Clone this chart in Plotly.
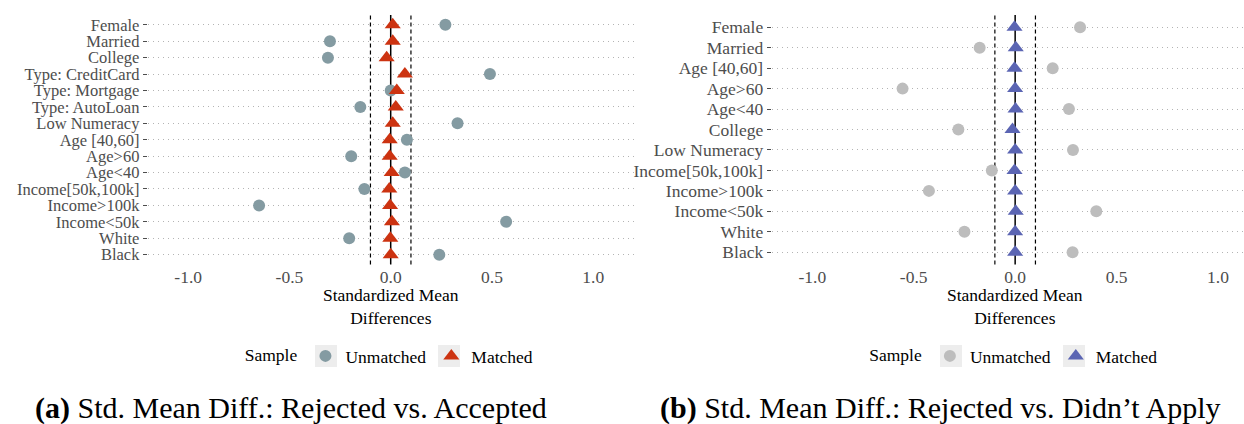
import plotly.graph_objects as go

# Covariate balance: rejected vs. accepted
left_labels = ["Female", "Married", "College", "Type: CreditCard", "Type: Mortgage",
               "Type: AutoLoan", "Low Numeracy", "Age [40,60]", "Age>60", "Age<40",
               "Income[50k,100k]", "Income>100k", "Income<50k", "White", "Black"]
left_unmatched = [0.27, -0.30, -0.31, 0.49, 0.00, -0.15, 0.33, 0.08, -0.195, 0.07,
                  -0.13, -0.65, 0.57, -0.205, 0.24]
left_matched = [0.01, 0.01, -0.02, 0.07, 0.03, 0.025, 0.01, -0.005, -0.005, 0.005,
                -0.007, -0.003, 0.006, -0.002, 0.0]

# Covariate balance: rejected vs. didn't apply
right_labels = ["Female", "Married", "Age [40,60]", "Age>60", "Age<40", "College",
                "Low Numeracy", "Income[50k,100k]", "Income>100k", "Income<50k",
                "White", "Black"]
right_unmatched = [0.32, -0.175, 0.185, -0.555, 0.265, -0.28, 0.285, -0.115, -0.425,
                   0.40, -0.25, 0.283]
right_matched = [-0.003, 0.003, -0.003, 0.0, 0.002, -0.013, 0.0, -0.003, 0.0, 0.003,
                 0.0, 0.0]

x_ticks = [-1.0, -0.5, 0.0, 0.5, 1.0]
x_ticktext = ["-1.0", "-0.5", "0.0", "0.5", "1.0"]
thresholds = [-0.1, 0.1]

W, H = 1244, 424
FONT = "Liberation Serif, Times New Roman, serif"
TICK_GRAY = "#4d4d4d"
FS = 17.5

panels = [
    dict(labels=left_labels, unm=left_unmatched, mat=left_matched,
         c_unm="#849ba2", c_mat="#cc3311", xref="x", yref="y", legend="legend",
         x0=147.7, x1=633.7, xrange=[-1.2, 1.2], yfs=16.5, key_x=[326, 449],
         caption="<b>(a)</b> Std. Mean Diff.: Rejected vs. Accepted", cap_x=291),
    dict(labels=right_labels, unm=right_unmatched, mat=right_matched,
         c_unm="#bdbdbd", c_mat="#5b65b3", xref="x2", yref="y2", legend="legend2",
         x0=771.7, x1=1244, xrange=[-1.2, 1.128], yfs=FS, key_x=[951, 1074],
         caption="<b>(b)</b> Std. Mean Diff.: Rejected vs. Didn\u2019t Apply", cap_x=940),
]

plot_top, plot_bot = 15.0, 264.5
y_dom = [1 - plot_bot / H, 1 - plot_top / H]
legend_y = 356
key_half = 11

fig = go.Figure()
layout = dict(width=W, height=H, margin=dict(l=0, r=0, t=0, b=0),
              paper_bgcolor="white", plot_bgcolor="white",
              font=dict(family=FONT, size=FS, color="black"),
              shapes=[], annotations=[])

for i, p in enumerate(panels):
    n = len(p["labels"])
    order = list(reversed(p["labels"]))
    fig.add_trace(go.Scatter(
        x=p["unm"], y=p["labels"], mode="markers", name="Unmatched",
        marker=dict(symbol="circle", size=12, color=p["c_unm"]),
        xaxis=p["xref"], yaxis=p["yref"], legend=p["legend"]))
    fig.add_trace(go.Scatter(
        x=p["mat"], y=p["labels"], mode="markers", name="Matched",
        marker=dict(symbol="triangle-up", size=14, color=p["c_mat"]),
        xaxis=p["xref"], yaxis=p["yref"], legend=p["legend"]))

    suffix = "" if i == 0 else "2"
    dom = [p["x0"] / W, p["x1"] / W]
    layout["xaxis" + suffix] = dict(
        domain=dom, range=p["xrange"], tickvals=x_ticks, ticktext=x_ticktext,
        showgrid=False, zeroline=False, showline=False, ticks="",
        tickfont=dict(family=FONT, size=FS, color=TICK_GRAY),
        anchor="y" + suffix)
    layout["yaxis" + suffix] = dict(
        domain=y_dom, type="category", categoryorder="array", categoryarray=order,
        tickmode="array", tickvals=p["labels"], ticktext=p["labels"],
        range=[-0.6, n - 0.4], showgrid=True, gridcolor="#b4b4b4", griddash="1px,4px",
        gridwidth=1, zeroline=False, showline=False, ticks="outside", ticklen=4,
        tickcolor=TICK_GRAY, tickwidth=1,
        tickfont=dict(family=FONT, size=p["yfs"], color=TICK_GRAY),
        anchor="x" + suffix)

    # reference lines at zero and at +/- 0.1
    layout["shapes"].append(dict(type="line", xref=p["xref"], yref=p["yref"] + " domain",
                                 x0=0, x1=0, y0=0, y1=1,
                                 line=dict(color="black", width=1.5), layer="below"))
    for t in thresholds:
        layout["shapes"].append(dict(type="line", xref=p["xref"], yref=p["yref"] + " domain",
                                     x0=t, x1=t, y0=0, y1=1,
                                     line=dict(color="black", width=1.2, dash="4px,3px"),
                                     layer="below"))

    # grey key backgrounds behind the legend symbols
    for kx in p["key_x"]:
        layout["shapes"].append(dict(
            type="rect", xref="paper", yref="paper",
            x0=(kx - key_half) / W, x1=(kx + key_half) / W,
            y0=1 - (legend_y + key_half) / H, y1=1 - (legend_y - key_half) / H,
            fillcolor="#ededed", line=dict(width=0), layer="below"))

    cx = (p["x0"] + 1.2 / (p["xrange"][1] - p["xrange"][0]) * (p["x1"] - p["x0"])) / W
    # axis title
    layout["annotations"].append(dict(
        text="Standardized Mean<br>Differences", x=cx, y=1 - 306 / H,
        xref="paper", yref="paper", showarrow=False, xanchor="center", yanchor="middle",
        font=dict(family=FONT, size=FS, color="black")))
    # caption
    layout["annotations"].append(dict(
        text=p["caption"], x=p["cap_x"] / W, y=1 - 408 / H, xref="paper", yref="paper",
        showarrow=False, xanchor="center", yanchor="middle",
        font=dict(family=FONT, size=30, color="black")))

    leg = dict(orientation="h", x=cx, xanchor="center", y=1 - legend_y / H, yanchor="middle",
               title=dict(text="Sample", side="left", font=dict(family=FONT, size=FS)),
               font=dict(family=FONT, size=FS, color="black"), bgcolor="rgba(0,0,0,0)",
               itemsizing="trace")
    layout[p["legend"]] = leg

fig.update_layout(**layout)
fig.write_html("out.html")
